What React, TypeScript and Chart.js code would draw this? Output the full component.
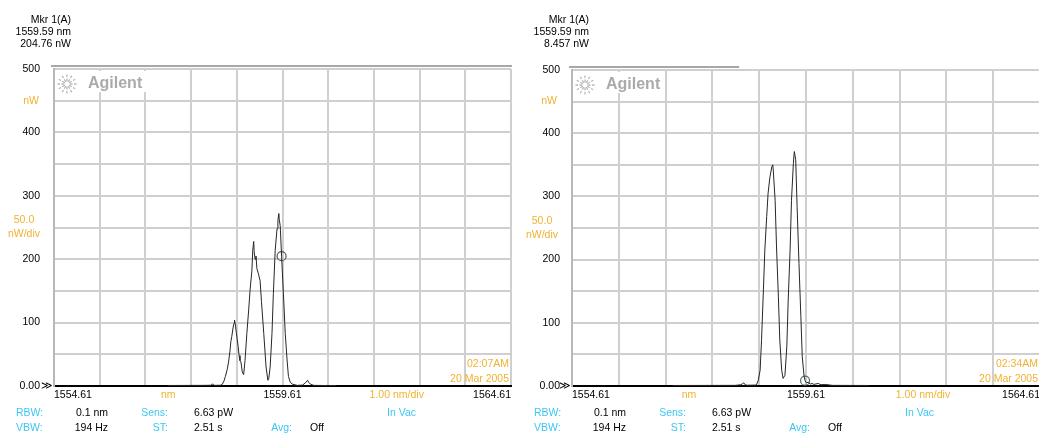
import React, { useEffect, useRef } from 'react';
import { Chart, registerables } from 'chart.js';

Chart.register(...registerables);

// Axis ranges (1.00 nm/div, 50.0 nW/div)
const xMin = 1554.61;
const xMax = 1564.61;
const xStep = 1;
const yMin = 0;
const yMax = 500;
const yStep = 50;
const xLabelValues = [1554.61, 1559.61, 1564.61];
const yLabelValues = [0, 100, 200, 300, 400, 500];

// Trace A, sweep at 02:07AM
const leftWavelengths = [
  1557.11, 1557.5, 1557.9, 1558.05, 1558.08, 1558.11, 1558.25, 1558.29, 1558.33, 1558.36,
  1558.4, 1558.43, 1558.46, 1558.48, 1558.5, 1558.53, 1558.55, 1558.56, 1558.58, 1558.6,
  1558.62, 1558.64, 1558.66, 1558.68, 1558.7, 1558.71, 1558.73, 1558.76, 1558.79, 1558.83,
  1558.87, 1558.9, 1558.94, 1558.96, 1558.98, 1558.99, 1559.01, 1559.03, 1559.05, 1559.08,
  1559.12, 1559.15, 1559.2, 1559.25, 1559.29, 1559.31, 1559.34, 1559.38, 1559.41, 1559.45,
  1559.49, 1559.51, 1559.53, 1559.54, 1559.56, 1559.59, 1559.63, 1559.67, 1559.71, 1559.74,
  1559.78, 1559.82, 1559.93, 1560.05, 1560.11, 1560.16, 1560.18, 1560.22, 1560.29, 1560.5,
  1560.78,
];
const leftPowers = [
  0.8, 0.9, 1.0, 1.2, 3.5, 1.0, 1.2, 2.5, 8, 15,
  26, 38, 55, 70, 78, 93, 99, 104, 96, 84,
  73, 62, 48, 40, 38, 33, 22, 18, 40, 83,
  120, 151, 182, 215, 228, 212, 200, 205, 185, 178,
  166, 133, 83, 30, 9, 12, 30, 83, 146, 214,
  248, 262, 272, 262, 253, 204.76, 146, 83, 41, 15,
  6, 3, 1, 1.5, 5, 9, 6, 3, 1, 0.8,
  0.8,
];

// Trace A, sweep at 02:34AM
const rightWavelengths = [
  1556.77, 1557.5, 1558.1, 1558.22, 1558.26, 1558.28, 1558.31, 1558.35, 1558.55, 1558.59,
  1558.63, 1558.66, 1558.7, 1558.73, 1558.77, 1558.8, 1558.84, 1558.88, 1558.9, 1558.91,
  1558.95, 1558.98, 1559.02, 1559.05, 1559.09, 1559.12, 1559.16, 1559.2, 1559.23, 1559.27,
  1559.3, 1559.34, 1559.36, 1559.39, 1559.42, 1559.46, 1559.5, 1559.53, 1559.57, 1559.59,
  1559.62, 1559.66, 1559.7, 1559.74, 1559.78, 1559.87, 1559.93, 1560.02, 1560.17, 1560.96,
];
const rightPowers = [
  0.8, 0.9, 1, 2, 4, 5, 2, 1.2, 1.5, 9,
  25, 73, 152, 215, 268, 305, 331, 347, 350, 342,
  294, 220, 141, 73, 25, 12, 17, 62, 136, 215,
  294, 352, 371, 358, 284, 194, 110, 46, 15, 8.457,
  5, 6, 3, 4, 2.5, 4, 2, 2.5, 1, 0.8,
];

// Marker 1 readouts
const leftMarker = { x: 1559.59, y: 204.76 };
const rightMarker = { x: 1559.59, y: 8.457 };
const leftMarkerText = ['Mkr 1(A)', '1559.59 nm', '204.76 nW'];
const rightMarkerText = ['Mkr 1(A)', '1559.59 nm', '8.457 nW'];
const leftStamp = ['02:07AM', '20 Mar 2005'];
const rightStamp = ['02:34AM', '20 Mar 2005'];
const leftSweepEnd = 1564.61;
const rightSweepEnd = 1558.16;

// Instrument settings shown under each trace
const settingLabels = ['RBW:', 'VBW:', 'Sens:', 'ST:', 'Avg:', 'In Vac'];
const settingValues = ['0.1 nm', '194 Hz', '6.63 pW', '2.51 s', 'Off'];

const FONT = '"Liberation Sans", Arial, sans-serif';
const ORANGE = '#f0b232';
const CYAN = '#3ec6f2';
const GRID = '#cfcfcf';

type Panel = {
  wavelengths: number[];
  powers: number[];
  marker: { x: number; y: number };
  markerText: string[];
  stamp: string[];
  sweepEnd: number;
  top: number;
  axisWidth: number;
  padRight: number;
  canvasLeft: number;
  canvasWidth: number;
  markerColor: string;
};

function put(
  ctx: CanvasRenderingContext2D,
  s: string,
  x: number,
  y: number,
  color: string,
  align: CanvasTextAlign = 'left',
) {
  ctx.fillStyle = color;
  ctx.textAlign = align;
  ctx.textBaseline = 'middle';
  ctx.fillText(s, x, y);
}

function overlay(p: Panel) {
  return {
    id: 'osaOverlay',
    beforeDatasetsDraw(chart: any) {
      const { ctx, chartArea: a, scales } = chart;
      ctx.save();
      // sweep progress bar above the graticule
      ctx.strokeStyle = '#a8a8a8';
      ctx.lineWidth = 2;
      ctx.beginPath();
      ctx.moveTo(a.left - 3, a.top - 3);
      ctx.lineTo(scales.x.getPixelForValue(p.sweepEnd) + 1, a.top - 3);
      ctx.stroke();
      // logo
      ctx.fillStyle = '#ffffff';
      ctx.fillRect(a.left + 2, a.top + 2, 90, 21);
      const cx = a.left + 13;
      const cy = a.top + 15;
      ctx.strokeStyle = '#b8b8b8';
      ctx.lineWidth = 1.3;
      for (let i = 0; i < 12; i++) {
        const ang = (i * Math.PI) / 6;
        const c = Math.cos(ang);
        const s = Math.sin(ang);
        ctx.beginPath();
        ctx.moveTo(cx + c * 2.5, cy + s * 2.5);
        ctx.lineTo(cx + c * 5.5, cy + s * 5.5);
        ctx.moveTo(cx + c * 7, cy + s * 7);
        ctx.lineTo(cx + c * 9.5, cy + s * 9.5);
        ctx.stroke();
      }
      ctx.font = `bold 16px ${FONT}`;
      put(ctx, 'Agilent', a.left + 34, a.top + 15, '#aaaaaa');
      ctx.restore();
    },
    afterDraw(chart: any) {
      const { ctx, chartArea: a, scales } = chart;
      const xs = scales.x;
      const ys = scales.y;
      ctx.save();
      ctx.font = `10.5px ${FONT}`;
      // marker readout
      p.markerText.forEach((t, i) => put(ctx, t, a.left + 17, 20 + i * 12, '#000', 'right'));
      // vertical scale annotations
      put(ctx, 'nW', a.left - 15, ys.getPixelForValue(450), ORANGE, 'right');
      const mid = ys.getPixelForValue(250);
      put(ctx, '50.0', a.left - 30, mid - 7, ORANGE, 'center');
      put(ctx, 'nW/div', a.left - 30, mid + 7, ORANGE, 'center');
      put(ctx, '\u226B', a.left - 13, ys.getPixelForValue(0), '#000', 'left');
      // horizontal scale annotations
      const ty = a.bottom + 9;
      put(ctx, 'nm', xs.getPixelForValue(xMin + 2.5 * xStep), ty, ORANGE, 'center');
      put(ctx, '1.00 nm/div', xs.getPixelForValue(xMin + 7.5 * xStep), ty, ORANGE, 'center');
      // time stamp
      put(ctx, p.stamp[0], a.right - 2, a.bottom - 22, ORANGE, 'right');
      put(ctx, p.stamp[1], a.right - 2, a.bottom - 7, ORANGE, 'right');
      // settings rows
      const r1 = 413;
      const r2 = 428;
      const L = a.left;
      put(ctx, settingLabels[0], L - 38, r1, CYAN, 'left');
      put(ctx, settingValues[0], L + 54, r1, '#000', 'right');
      put(ctx, settingLabels[2], L + 114, r1, CYAN, 'right');
      put(ctx, settingValues[2], L + 140, r1, '#000', 'left');
      put(ctx, settingLabels[5], L + 333, r1, CYAN, 'left');
      put(ctx, settingLabels[1], L - 38, r2, CYAN, 'left');
      put(ctx, settingValues[1], L + 54, r2, '#000', 'right');
      put(ctx, settingLabels[3], L + 114, r2, CYAN, 'right');
      put(ctx, settingValues[3], L + 140, r2, '#000', 'left');
      put(ctx, settingLabels[4], L + 238, r2, CYAN, 'right');
      put(ctx, settingValues[4], L + 256, r2, '#000', 'left');
      ctx.restore();
    },
  };
}

function SpectrumPanel({ p }: { p: Panel }) {
  const ref = useRef<HTMLCanvasElement | null>(null);
  useEffect(() => {
    if (!ref.current) return;
    const gridValues: number[] = [];
    for (let i = 0; i <= Math.round((xMax - xMin) / xStep); i++) gridValues.push(xMin + i * xStep);
    const chart = new Chart(ref.current, {
      type: 'scatter',
      data: {
        datasets: [
          {
            data: p.wavelengths.map((w, i) => ({ x: w, y: p.powers[i] })),
            showLine: true,
            borderColor: '#262626',
            borderWidth: 1,
            pointRadius: 0,
            tension: 0,
          },
          {
            data: [p.marker],
            pointStyle: 'circle',
            pointRadius: 4.5,
            borderColor: p.markerColor,
            backgroundColor: 'rgba(0,0,0,0)',
            borderWidth: 1.2,
          },
        ],
      },
      options: {
        responsive: false,
        animation: false,
        events: [],
        layout: { padding: { left: 0, top: p.top, right: p.padRight, bottom: 0 } },
        plugins: { legend: { display: false }, tooltip: { enabled: false } },
        scales: {
          x: {
            type: 'linear',
            min: xMin,
            max: xMax,
            afterBuildTicks: (scale: any) => {
              scale.ticks = gridValues.map((v) => ({ value: v }));
            },
            afterFit: (scale: any) => {
              scale.height = 433 - 386;
            },
            grid: { color: GRID, lineWidth: 2, drawTicks: false },
            border: { color: '#000', width: 2 },
            ticks: {
              autoSkip: false,
              maxRotation: 0,
              align: 'inner',
              padding: 3,
              color: '#000',
              font: { family: 'Liberation Sans', size: 10.5 },
              callback: (v: any) => {
                const hit = xLabelValues.find((t) => Math.abs(t - Number(v)) < 1e-6);
                return hit === undefined ? '' : hit.toFixed(2);
              },
            },
          },
          y: {
            type: 'linear',
            min: yMin,
            max: yMax,
            afterFit: (scale: any) => {
              scale.width = p.axisWidth;
            },
            grid: { color: GRID, lineWidth: 2, drawTicks: false },
            border: { color: '#b8b8b8', width: 2 },
            ticks: {
              stepSize: yStep,
              autoSkip: false,
              padding: p.axisWidth - 40,
              color: '#000',
              font: { family: 'Liberation Sans', size: 10.5 },
              callback: (v: any) => {
                const n = Number(v);
                if (!yLabelValues.includes(n)) return '';
                return n === 0 ? '0.00' : String(n);
              },
            },
          },
        },
      },
      plugins: [overlay(p)],
    } as any);
    return () => chart.destroy();
  }, [p]);
  return (
    <canvas
      ref={ref}
      width={p.canvasWidth}
      height={433}
      style={{ position: 'absolute', left: p.canvasLeft, top: 0, width: p.canvasWidth, height: 433 }}
    />
  );
}

const leftPanel: Panel = {
  wavelengths: leftWavelengths,
  powers: leftPowers,
  marker: leftMarker,
  markerText: leftMarkerText,
  stamp: leftStamp,
  sweepEnd: leftSweepEnd,
  top: 69,
  axisWidth: 54,
  padRight: 9,
  canvasLeft: 0,
  canvasWidth: 520,
  markerColor: '#555555',
};

const rightPanel: Panel = {
  wavelengths: rightWavelengths,
  powers: rightPowers,
  marker: rightMarker,
  markerText: rightMarkerText,
  stamp: rightStamp,
  sweepEnd: rightSweepEnd,
  top: 70,
  axisWidth: 52,
  padRight: 6,
  canvasLeft: 520,
  canvasWidth: 526,
  markerColor: '#4f6f6f',
};

export default function App() {
  return (
    <div
      style={{
        position: 'absolute',
        left: 0,
        top: 0,
        width: 1039,
        height: 433,
        overflow: 'hidden',
        background: '#ffffff',
      }}
    >
      <SpectrumPanel p={leftPanel} />
      <SpectrumPanel p={rightPanel} />
    </div>
  );
}
